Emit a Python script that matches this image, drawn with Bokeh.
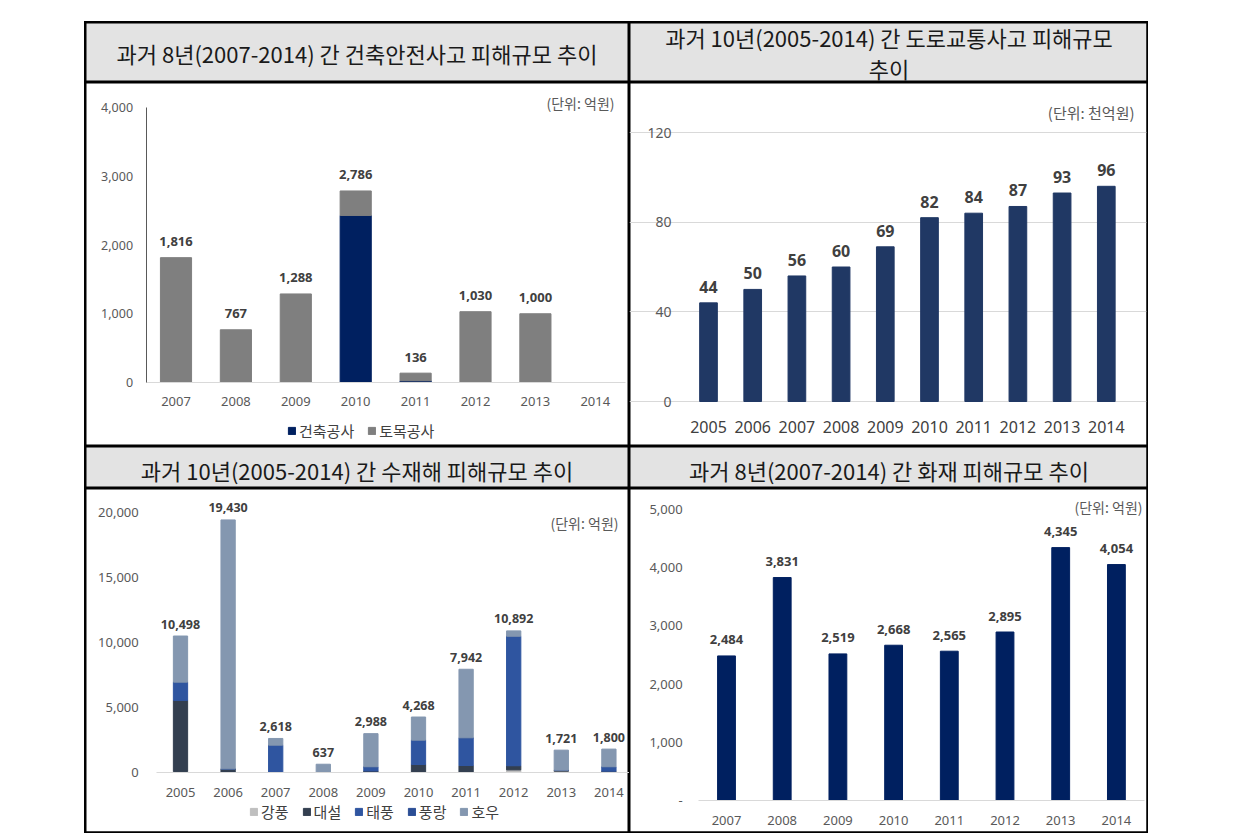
from bokeh.plotting import figure
from bokeh.models import (Range1d, FixedTicker, NumeralTickFormatter, ColumnDataSource,
                          Legend, LegendItem, Span, Label, Spacer)
from bokeh.layouts import column, row
from bokeh.core.properties import value
from bokeh.embed import file_html
from bokeh.resources import INLINE

# ---------------- data ----------------
titles = [
    "과거 8년(2007-2014) 간 건축안전사고 피해규모 추이",
    "과거 10년(2005-2014) 간 도로교통사고 피해규모",
    "추이",
    "과거 10년(2005-2014) 간 수재해 피해규모 추이",
    "과거 8년(2007-2014) 간 화재 피해규모 추이",
]

years_8 = ["2007", "2008", "2009", "2010", "2011", "2012", "2013", "2014"]
years_10 = ["2005", "2006", "2007", "2008", "2009", "2010", "2011", "2012", "2013", "2014"]

# 건축안전사고 (억원)
build_names = ["건축공사", "토목공사"]
build_work = [0, 0, 0, 2430, 25, 0, 0, 0]
civil_work = [1816, 767, 1288, 356, 111, 1030, 1000, 0]
build_ticks = [0, 1000, 2000, 3000, 4000]

# 도로교통사고 (천억원)
road_damage = [44, 50, 56, 60, 69, 82, 84, 87, 93, 96]
road_ticks = [0, 40, 80, 120]

# 수재해 (억원)
flood_names = ["강풍", "대설", "태풍", "풍랑", "호우"]
flood_gale = [80, 30, 0, 0, 0, 0, 0, 200, 100, 0]
flood_snow = [5460, 250, 0, 0, 120, 615, 538, 320, 80, 100]
flood_typhoon = [1410, 0, 2100, 0, 320, 1870, 2130, 9960, 0, 340]
flood_wave = [0, 0, 0, 0, 0, 0, 0, 0, 0, 0]
flood_rain = [3548, 19150, 518, 637, 2548, 1783, 5274, 412, 1541, 1360]
flood_ticks = [0, 5000, 10000, 15000, 20000]

# 화재 (억원)
fire_damage = [2484, 3831, 2519, 2668, 2565, 2895, 4345, 4054]
fire_ticks = [0, 1000, 2000, 3000, 4000, 5000]

units = ["(단위: 억원)", "(단위: 천억원)", "(단위: 억원)", "(단위: 억원)"]

# ---------------- styling helpers ----------------
KR = "Noto Sans CJK KR"
NUM = "Noto Sans"
HEADER_BG = "#e3e3e3"


class Geom:
    def __init__(self, w, h, x0, step, zero_px, top_px, top_val):
        self.w, self.h, self.x0, self.step = w, h, x0, step
        self.zero_px, self.k = zero_px, (zero_px - top_px) / top_val
        self.xr = Range1d(-x0 / step, (w - x0) / step)
        self.yr = Range1d(-(h - zero_px) / self.k, zero_px / self.k)

    def dx(self, px):
        return (px - self.x0) / self.step

    def dy(self, py):
        return (self.zero_px - py) / self.k


def add_edges(p, sides):
    for s in sides:
        if s == "left":
            sp = Span(location=p.x_range.start, dimension="height")
        elif s == "right":
            sp = Span(location=p.x_range.end, dimension="height")
        elif s == "top":
            sp = Span(location=p.y_range.end, dimension="width")
        else:
            sp = Span(location=p.y_range.start, dimension="width")
        sp.line_color = "black"
        sp.line_width = 4
        p.add_layout(sp)


def base_fig(w, h, xr, yr, bg="white", axes=True):
    kw = {}
    if not axes:
        kw = dict(x_axis_type=None, y_axis_type=None)
    p = figure(width=w, height=h, x_range=xr, y_range=yr, output_backend="svg",
               toolbar_location=None, tools="", min_border=0, **kw)
    p.min_border_left = p.min_border_right = p.min_border_top = p.min_border_bottom = 0
    p.outline_line_color = "black"
    p.outline_line_width = 2
    p.background_fill_color = bg
    p.border_fill_color = bg
    if axes:
        p.xgrid.visible = False
        p.ygrid.visible = False
    return p


def header(w, h, lines, sides):
    p = base_fig(w, h, Range1d(0, w), Range1d(0, h), bg=HEADER_BG, axes=False)
    for txt, y_from_top in lines:
        p.add_layout(Label(x=w / 2, y=h - y_from_top, text=txt, text_align="center",
                           text_baseline="middle", text_font=KR, text_font_size="22px",
                           text_color="#1a1a1a"))
    add_edges(p, sides)
    return p


def style_axes(p, labels, yticks, x_standoff, y_standoff, x_font, y_font,
               x_line=None, y_line=None, x_color="#595959", y_color="#595959",
               y_overrides=None):
    n = len(labels)
    xa = p.xaxis[0]
    xa.fixed_location = 0
    xa.ticker = FixedTicker(ticks=list(range(n)))
    xa.major_label_overrides = {i: lab for i, lab in enumerate(labels)}
    xa.major_tick_line_color = None
    xa.minor_tick_line_color = None
    xa.major_tick_out = 0
    xa.major_tick_in = 0
    xa.minor_tick_out = 0
    xa.axis_line_color = x_line
    xa.bounds = (-0.5, n - 0.5)
    xa.major_label_standoff = x_standoff
    xa.major_label_text_font = NUM
    xa.major_label_text_font_size = x_font
    xa.major_label_text_color = x_color

    ya = p.yaxis[0]
    ya.fixed_location = -0.5
    ya.ticker = FixedTicker(ticks=yticks)
    ya.formatter = NumeralTickFormatter(format="0,0")
    if y_overrides:
        ya.major_label_overrides = y_overrides
    ya.major_tick_line_color = None
    ya.minor_tick_line_color = None
    ya.major_tick_out = 0
    ya.major_tick_in = 0
    ya.minor_tick_out = 0
    ya.axis_line_color = y_line
    ya.bounds = (yticks[0], yticks[-1])
    ya.major_label_standoff = y_standoff
    ya.major_label_text_font = NUM
    ya.major_label_text_font_size = y_font
    ya.major_label_text_color = y_color


def bar_labels(p, totals, offset, size):
    xs = [i for i, t in enumerate(totals) if t > 0]
    ys = [t for t in totals if t > 0]
    src = ColumnDataSource(dict(x=xs, y=ys, txt=[f"{t:,}" for t in ys]))
    p.text(x="x", y="y", text="txt", source=src, text_align="center",
           text_baseline="middle", y_offset=-offset, text_font=value(NUM),
           text_font_style="bold", text_font_size=size, text_color="#404040")


def unit_label(p, g, px, py, txt, size, align="right"):
    p.add_layout(Label(x=g.dx(px), y=g.dy(py), text=txt, text_align=align,
                       text_baseline="middle", text_font=KR, text_font_size=size,
                       text_color="#595959"))


def make_legend(p, names, renderers, x_left, y_bottom):
    lg = Legend(items=[LegendItem(label=n, renderers=[r]) for n, r in zip(names, renderers)],
                orientation="horizontal", location=(x_left, y_bottom))
    lg.label_text_font = KR
    lg.label_text_font_size = "15px"
    lg.label_text_color = "#404040"
    lg.glyph_width = 9
    lg.glyph_height = 9
    lg.label_height = 16
    lg.label_standoff = 3
    lg.spacing = 13
    lg.padding = 2
    lg.margin = 0
    lg.background_fill_alpha = 0
    lg.border_line_color = None
    p.add_layout(lg)


# ---------------- headers ----------------
LW, RW = 545, 519
H1, C1, H2, C2 = 61, 364, 42, 345

h1 = header(LW, H1, [(titles[0], 31)], ["left", "top"])
h2 = header(RW, H1, [(titles[1], 15), (titles[2], 46)], ["right", "top"])
h3 = header(LW, H2, [(titles[3], 23)], ["left"])
h4 = header(RW, H2, [(titles[4], 23)], ["right"])

# ---------------- chart 1: 건축안전사고 ----------------
g1 = Geom(LW, C1, 91.5, 59.9, 300, 25, 4000)
c1 = base_fig(LW, C1, g1.xr, g1.yr)
src1 = ColumnDataSource(dict(x=list(range(len(years_8))), b=build_work, c=civil_work))
r1 = c1.vbar_stack(["b", "c"], x="x", width=0.52, color=["#002060", "#7f7f7f"], source=src1)
style_axes(c1, years_8, build_ticks, 14, 13, "13px", "12.5px", x_line="#d9d9d9", y_line="#595959")
bar_labels(c1, [a + b for a, b in zip(build_work, civil_work)], 16, "13px")
unit_label(c1, g1, 530, 20, units[0], "14px")
make_legend(c1, build_names, r1, 203, 5)
add_edges(c1, ["left"])

# ---------------- chart 2: 도로교통사고 ----------------
g2 = Geom(RW, C1, 79, 44.2, 319, 50, 120)
c2 = base_fig(RW, C1, g2.xr, g2.yr)
src2 = ColumnDataSource(dict(x=list(range(len(years_10))), v=road_damage))
c2.vbar(x="x", top="v", width=0.4, color="#203864", source=src2)
style_axes(c2, years_10, road_ticks, 19, 15, "16px", "14px", x_color="#404040")
c2.ygrid.visible = True
c2.ygrid.ticker = FixedTicker(ticks=road_ticks)
c2.ygrid.grid_line_color = "#d9d9d9"
c2.ygrid.bounds = (-0.5, len(years_10) - 0.5)
bar_labels(c2, road_damage, 16, "16px")
unit_label(c2, g2, 505, 30, units[1], "15px")
add_edges(c2, ["right"])

# ---------------- chart 3: 수재해 ----------------
g3 = Geom(LW, C2, 96, 47.6, 284, 24, 20000)
c3 = base_fig(LW, C2, g3.xr, g3.yr)
src3 = ColumnDataSource(dict(x=list(range(len(years_10))), a=flood_gale, b=flood_snow,
                             c=flood_typhoon, d=flood_wave, e=flood_rain))
r3 = c3.vbar_stack(["a", "b", "c", "d", "e"], x="x", width=0.3,
                   color=["#bfbfbf", "#333f50", "#2f55a0", "#2b4e95", "#8497b0"], source=src3)
style_axes(c3, years_10, flood_ticks, 15, 18, "13px", "13px", x_line="#d9d9d9")
flood_totals = [sum(v) for v in zip(flood_gale, flood_snow, flood_typhoon, flood_wave, flood_rain)]
bar_labels(c3, flood_totals, 12, "12.5px")
unit_label(c3, g3, 466, 34, units[2], "14px", align="left")
make_legend(c3, flood_names, r3, 165, 11)
add_edges(c3, ["left", "bottom"])

# ---------------- chart 4: 화재 ----------------
g4 = Geom(RW, C2, 97, 55.7, 312, 21, 5000)
c4 = base_fig(RW, C2, g4.xr, g4.yr)
src4 = ColumnDataSource(dict(x=list(range(len(years_8))), v=fire_damage))
c4.vbar(x="x", top="v", width=0.32, color="#002060", source=src4)
style_axes(c4, years_8, fire_ticks, 15, 16, "13px", "13px", x_line="#d9d9d9",
           y_overrides={0: "-"})
bar_labels(c4, fire_damage, 16, "13px")
unit_label(c4, g4, 513, 18, units[3], "14px")
add_edges(c4, ["right", "bottom"])

# ---------------- layout ----------------
grid = column(row(h1, h2), row(c1, c2), row(h3, h4), row(c3, c4))
page = column(Spacer(width=10, height=21), row(Spacer(width=84, height=10), grid))

open("out.html", "w").write(file_html(page, INLINE))
